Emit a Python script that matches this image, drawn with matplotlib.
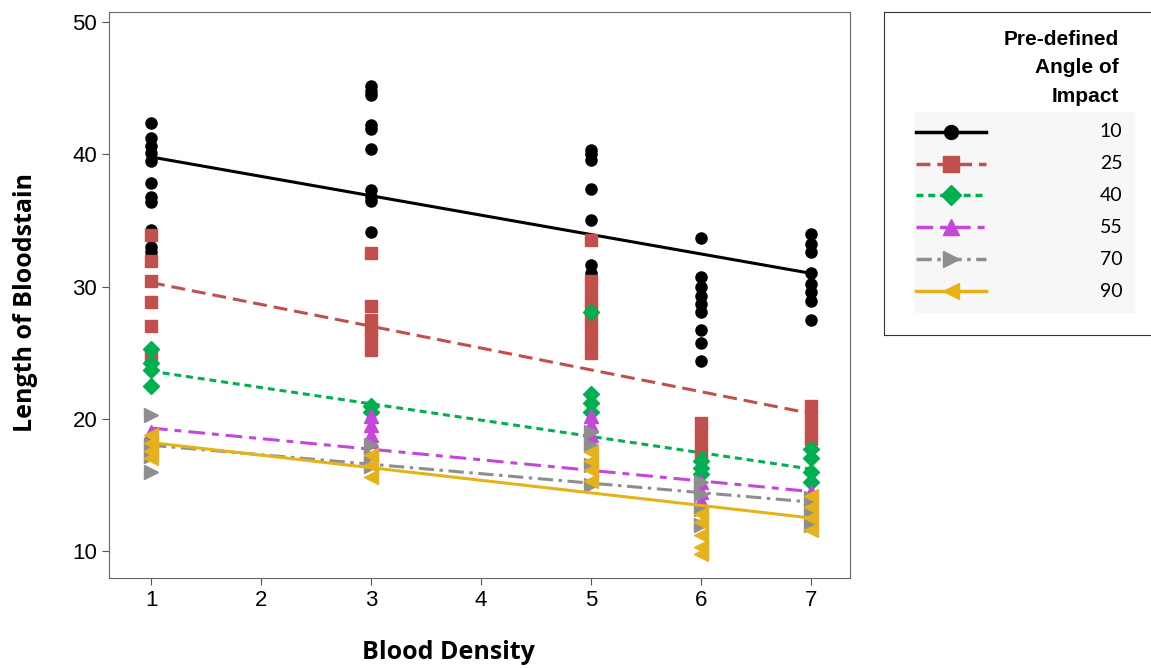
import numpy as np
import matplotlib
matplotlib.use("Agg")
import matplotlib.pyplot as plt
from matplotlib.patches import Rectangle

plt.rcParams['lines.scale_dashes'] = False
plt.rcParams['font.family'] = 'Liberation Sans'

# blood density levels and bloodstain lengths
densities = [1, 3, 5, 6, 7]
angles = ['10', '25', '40', '55', '70', '90']

len_10 = [[42.4, 41.2, 40.6, 40.1, 39.5, 37.8, 36.8, 36.4, 34.3, 33.0, 32.6],
          [45.2, 44.8, 44.5, 42.2, 41.9, 40.4, 37.3, 36.8, 36.5, 34.1],
          [40.3, 40.0, 39.6, 37.4, 35.0, 31.6, 31.0],
          [33.7, 30.7, 30.0, 29.3, 28.7, 28.1, 26.7, 25.7, 24.4],
          [34.0, 33.2, 32.6, 31.0, 30.2, 29.6, 28.9, 27.5]]
len_25 = [[33.9, 31.9, 30.4, 28.8, 27.0, 24.7],
          [32.5, 28.5, 27.5, 26.8, 26.0, 25.2],
          [33.5, 30.4, 29.5, 28.6, 27.7, 26.8, 25.8, 25.0],
          [19.7, 18.9, 18.0, 17.3],
          [21.0, 20.2, 19.3, 18.5]]
len_40 = [[25.3, 24.2, 23.7, 22.5],
          [21.0, 20.5],
          [28.1, 21.9, 21.2, 20.5],
          [16.8, 16.3, 15.8],
          [17.7, 17.0, 16.0, 15.2]]
len_55 = [[19.0, 18.3, 17.6],
          [20.2, 19.5, 18.8, 18.3],
          [20.2, 19.5, 18.8, 18.2],
          [15.2, 14.5, 13.8, 13.3],
          [14.5, 13.9]]
len_70 = [[20.3, 18.0, 17.2, 16.0],
          [18.0, 17.2, 16.4],
          [19.0, 18.0, 16.5, 15.0],
          [15.2, 14.3, 13.2, 12.0],
          [14.0, 13.0, 12.0]]
len_90 = [[18.8, 18.2, 17.6, 17.0],
          [17.3, 16.5, 15.6],
          [17.5, 16.8, 16.1, 15.3],
          [12.8, 12.2, 11.2, 10.3, 9.8],
          [14.2, 13.3, 12.5, 11.6]]

# fitted line values at density 1 and 7
fit_start = [39.8, 30.3, 23.6, 19.3, 18.0, 18.2]
fit_end = [31.0, 20.4, 16.2, 14.5, 13.7, 12.5]

groups = [len_10, len_25, len_40, len_55, len_70, len_90]
colors = ['#000000', '#C0504D', '#00B050', '#C446DB', '#8E8E8E', '#E5B21A']
markers = ['o', 's', 'D', '^', '>', '<']
msizes = [8, 9, 8.5, 10, 10, 10]
dashes = [(None), (10, 5), (5, 3.5), (12, 5, 5, 5), (11, 4, 2.5, 4), (None)]

fig = plt.figure(figsize=(11.51, 6.68), dpi=100)
ax = fig.add_axes([0.0947, 0.1347, 0.6438, 0.8473])

for i in range(len(groups)):
    xs = []
    ys = []
    for j in range(len(densities)):
        for v in groups[i][j]:
            xs.append(densities[j])
            ys.append(v)
    ax.plot(xs, ys, linestyle='none', marker=markers[i], color=colors[i],
            markersize=msizes[i], zorder=3 + i)
    line, = ax.plot([min(densities), max(densities)], [fit_start[i], fit_end[i]],
                    color=colors[i], lw=2.2, zorder=3 + i)
    if dashes[i] is not None:
        line.set_dashes(dashes[i])

ax.set_xlim(0.618, 7.355)
ax.set_ylim(7.96, 50.76)
ax.set_xticks([1, 2, 3, 4, 5, 6, 7])
ax.set_yticks([10, 20, 30, 40, 50])
ax.tick_params(labelsize=16, length=5, color='#555555')
for s in ax.spines.values():
    s.set_color('#666666')
ax.set_xlabel('Blood Density', fontsize=18, fontweight='bold', family='Open Sans', va='center')
ax.set_ylabel('Length of Bloodstain', fontsize=18, fontweight='bold', family='Open Sans', va='center')
ax.xaxis.set_label_coords(0.4575, -0.131)
ax.yaxis.set_label_coords(-0.113, 0.486)

# legend panel
lax = fig.add_axes([0.768, 0.4985, 0.234, 0.4835])
lax.set_xlim(0, 1)
lax.set_ylim(0, 1)
lax.set_xticks([])
lax.set_yticks([])
for s in lax.spines.values():
    s.set_color('#333333')
lax.text(0.872, 0.827, 'Pre-defined\nAngle of\nImpact', ha='right', va='center',
         fontsize=15, fontweight='bold', linespacing=1.65)
lax.add_patch(Rectangle((0.117, 0.07), 0.81, 0.62, color='#F7F7F7', zorder=0))
for i in range(len(angles)):
    yy = 0.63 - i * 0.099
    hl, = lax.plot([0.12, 0.38], [yy, yy], color=colors[i], lw=2.5)
    if dashes[i] is not None:
        hl.set_dashes(dashes[i])
    lax.plot([0.25], [yy], marker=markers[i], color=colors[i], markersize=msizes[i] + 2)
    lax.text(0.885, yy, angles[i], ha='right', va='center', fontsize=14, family='Lato')

fig.savefig('out.png', dpi=100)
